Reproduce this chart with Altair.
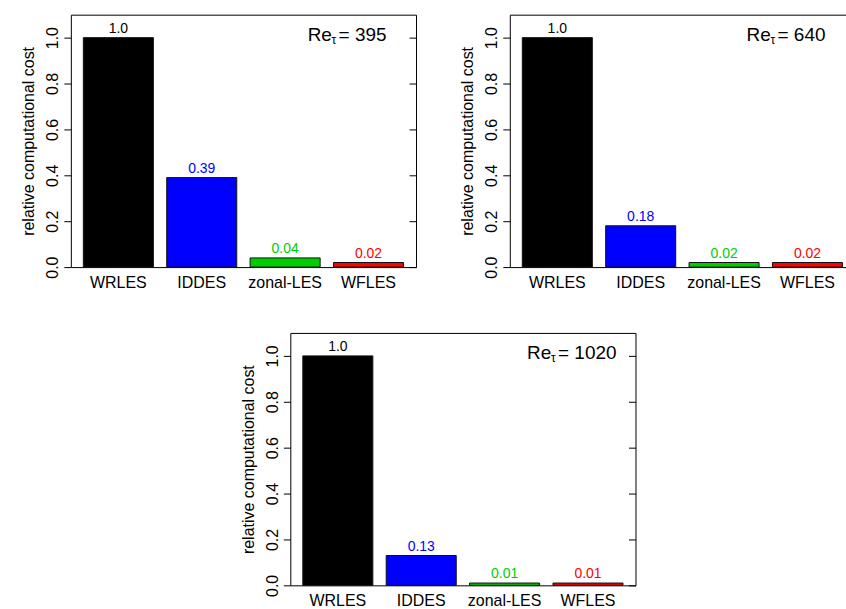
import altair as alt
import pandas as pd

# Methods compared and their bar colours
methods = ["WRLES", "IDDES", "zonal-LES", "WFLES"]
colors = ["#000000", "#0000FF", "#00CD00", "#FF0000"]

# Friction Reynolds numbers of the three channel-flow cases
re_tau = [395, 640, 1020]

# Relative computational cost (normalised by WRLES) for each case
cost_395 = [1.0, 0.39, 0.04, 0.02]
cost_640 = [1.0, 0.18, 0.02, 0.02]
cost_1020 = [1.0, 0.13, 0.01, 0.01]

y_ticks = [0.0, 0.2, 0.4, 0.6, 0.8, 1.0]

FONT = "Liberation Sans"
W, H = 346, 253


def fmt(v):
    return "1.0" if v == 1.0 else f"{v:.2f}"


def panel(costs, re):
    df = pd.DataFrame({
        "method": methods,
        "cost": costs,
        "label": [fmt(v) for v in costs],
    })
    xscale = alt.Scale(domain=methods, paddingInner=0.16, paddingOuter=0.15)
    x = alt.X(
        "method:N", sort=methods, scale=xscale,
        axis=alt.Axis(title=None, labelAngle=0, ticks=False, tickSize=0,
                      domain=False, labelFontSize=16, labelPadding=7,
                      labelColor="black", labelFont=FONT),
    )
    yscale = alt.Scale(domain=[0, 1.1], nice=False, zero=True)
    color = alt.Color("method:N", scale=alt.Scale(domain=methods, range=colors),
                      legend=None)

    bars = alt.Chart(df).mark_bar(stroke="#111111", strokeWidth=1).encode(
        x=x,
        y=alt.Y("cost:Q", scale=yscale,
                axis=alt.Axis(values=y_ticks, format=".1f", grid=False,
                              domain=False, tickSize=7, tickColor="black",
                              labelAngle=270, labelAlign="center",
                              labelBaseline="bottom", labelPadding=3,
                              labelFontSize=16, labelColor="black",
                              labelFont=FONT,
                              title="relative computational cost",
                              titleFontSize=16, titleFontWeight="normal",
                              titleFont=FONT, titleColor="black",
                              titlePadding=8)),
        color=color,
    )

    values = alt.Chart(df).mark_text(dy=-5, baseline="alphabetic",
                                     fontSize=14, font=FONT).encode(
        x=x, y=alt.Y("cost:Q", scale=yscale, axis=None), text="label:N",
        color=color,
    )

    # inward ticks along the right edge of the box
    right = alt.Chart(df).mark_point(opacity=0).encode(
        x=x,
        y=alt.Y("cost:Q", scale=yscale,
                axis=alt.Axis(orient="right", values=y_ticks, labels=False,
                              domain=False, grid=False, tickSize=7,
                              tickColor="black", offset=-7, title=None)),
    )

    # "Re_tau = N" annotation, placed next to the last bar at the 1.0 level
    one = pd.DataFrame({"k": [0]})
    ax = alt.X(datum="WFLES", scale=xscale)
    ay = alt.Y(datum=1.0, scale=yscale, axis=None)
    re_main = alt.Chart(one).mark_text(
        text="Re", align="left", baseline="middle", fontSize=19, font=FONT,
        color="black", dx=-61, dy=-3).encode(x=ax, y=ay)
    re_sub = alt.Chart(one).mark_text(
        text="\u03c4", align="left", baseline="middle", fontSize=12,
        font=FONT, color="black", dx=-37, dy=2).encode(x=ax, y=ay)
    re_val = alt.Chart(one).mark_text(
        text=f"= {re}", align="left", baseline="middle", fontSize=19,
        font=FONT, color="black", dx=-30, dy=-3).encode(x=ax, y=ay)

    return alt.layer(bars, values, right, re_main, re_sub, re_val).resolve_axis(
        y="independent").properties(width=W, height=H)


p1 = panel(cost_395, re_tau[0])
p2 = panel(cost_640, re_tau[1])
p3 = panel(cost_1020, re_tau[2])

top = alt.hconcat(p1, p2, spacing=42)

chart = alt.vconcat(top, p3, spacing=41, center=True).properties(
    padding={"left": 20, "top": 13, "right": -10, "bottom": 0}
).configure_view(stroke="black", strokeWidth=1)

chart.save("out.html", embed_options={"renderer": "svg", "actions": False})
